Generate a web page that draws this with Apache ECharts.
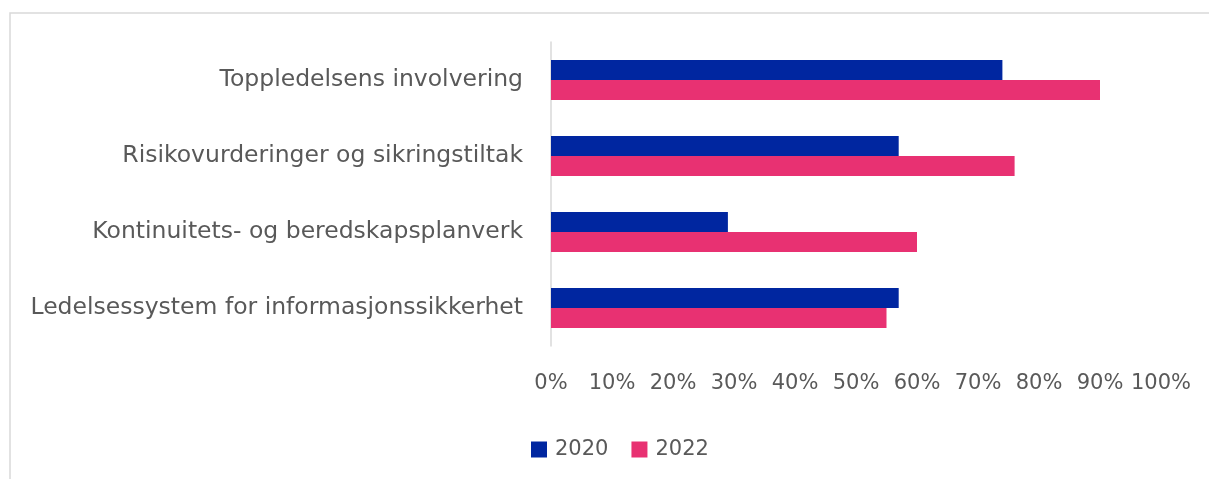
<!DOCTYPE html>
<html><head><meta charset="utf-8">
<script src="https://cdn.jsdelivr.net/npm/echarts@6/dist/echarts.min.js"></script>
<style>html,body{margin:0;padding:0;background:#fff}#c{width:1209px;height:479px}</style>
</head><body><div id="c"></div>
<script>
const categories = ["Toppledelsens involvering","Risikovurderinger og sikringstiltak","Kontinuitets- og beredskapsplanverk","Ledelsessystem for informasjonssikkerhet"];
const seriesNames = ["2020","2022"];
const values2020 = [74, 57, 29, 57];
const values2022 = [90, 76, 60, 55];
const colors = ["#0026A0", "#E83172"];
const FONT = "'DejaVu Sans', sans-serif";
const chart = echarts.init(document.getElementById('c'));
chart.setOption({
  animation:false,
  graphic:[{type:'rect',shape:{x:10,y:13,width:1220,height:500},style:{fill:'none',stroke:'#d9d9d9',lineWidth:1.5},silent:true,z:-1}],
  grid:{left:551,top:42,width:610,height:304,containLabel:false},
  legend:{data:seriesNames,left:526,top:434,itemWidth:16,itemHeight:16,itemGap:23,icon:'rect',
    textStyle:{fontFamily:FONT,fontSize:21,color:'#595959',padding:[0,0,0,3]}},
  xAxis:{type:'value',min:0,max:100,interval:10,
    axisLabel:{formatter:'{value}%',fontFamily:FONT,fontSize:21,color:'#595959',margin:27},
    axisLine:{show:false},axisTick:{show:false},splitLine:{show:false}},
  yAxis:{type:'category',data:categories,inverse:true,
    axisLine:{show:true,lineStyle:{color:'#d9d9d9',width:1.5}},axisTick:{show:false},
    axisLabel:{fontFamily:FONT,fontSize:23.5,color:'#595959',margin:28}},
  series:[
    {name:seriesNames[0],type:'bar',data:values2020,itemStyle:{color:colors[0]},barWidth:20,barGap:'0%'},
    {name:seriesNames[1],type:'bar',data:values2022,itemStyle:{color:colors[1]},barWidth:20,barGap:'0%'}
  ]
});
</script></body></html>
